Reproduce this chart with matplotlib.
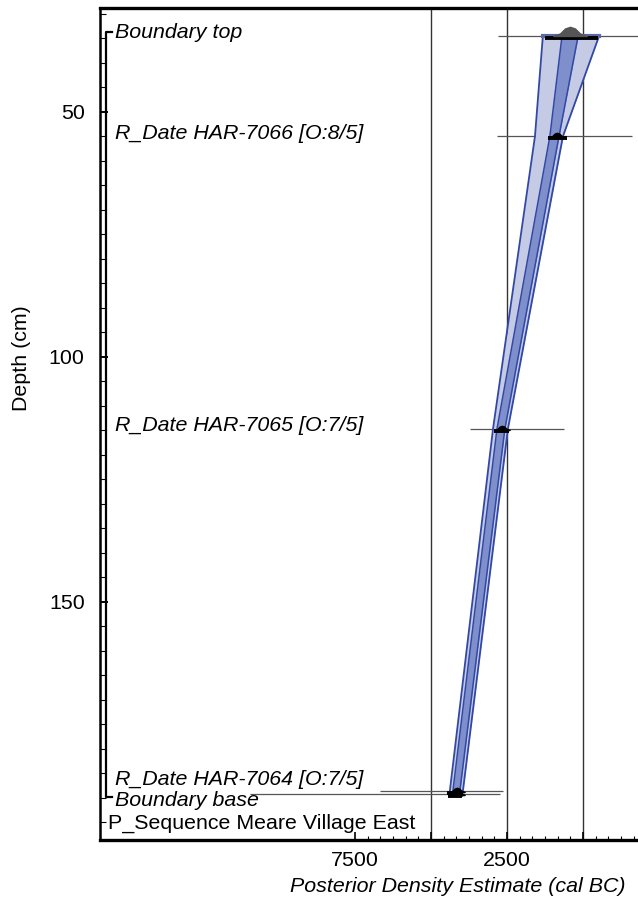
import matplotlib
matplotlib.use('Agg')
import matplotlib.pyplot as plt
from matplotlib.path import Path
from matplotlib.ticker import FixedLocator, FixedFormatter
import numpy as np

plt.rcParams['font.family'] = ['Liberation Sans', 'DejaVu Sans']

# ---------------------------------------------------------------
# data (cal BC / depth in cm)
# ---------------------------------------------------------------
names = ['Boundary top', 'R_Date HAR-7066 [O:8/5]', 'R_Date HAR-7065 [O:7/5]',
         'R_Date HAR-7064 [O:7/5]', 'Boundary base']
depths = [34.5, 54.9, 114.7, 188.6, 189.2]
label_depths = [33.7, 54.5, 114.1, 186.3, 190.6]
prior_old = [2800, 2830, 3720, 6680, 10950]
prior_young = [-2300, -1610, 620, 2630, 2730]
post_old = [1250, 1150, 2930, 4470, 4440]
post_young = [-490, 530, 2430, 3950, 3980]
post_mode = [430, 855, 2670, 4145, 4150]

env_depth = [34.5, 55.0, 114.7, 188.6, 189.6]
env95_old = [1320, 1580, 2960, 4380, 4400]
env95_young = [-530, 660, 2470, 3950, 3970]
env68_old = [690, 1090, 2830, 4280, 4300]
env68_young = [160, 790, 2570, 4050, 4070]

seq_name = 'P_Sequence Meare Village East'
seq_depth = 195.3

xticks = [7500, 5000, 2500, 0]
xticklabels = ['7500', '', '2500', '']
xgrid = [5000, 2500, 0]
yticks = [50, 100, 150]

# ---------------------------------------------------------------
LIGHT = '#c6cbe5'
DARK = '#7f8fcb'
EDGE = '#3148a6'
FS = 15.4

fig = plt.figure(figsize=(6.38, 9.01), dpi=100, facecolor='white')
ax = fig.add_axes([100 / 638, 61 / 901, 540 / 638, 832 / 901])
ax.set_xlim(15888, -1875)
ax.set_ylim(198.6, 28.8)

for g in xgrid:
    ax.axvline(g, color='#333333', lw=1.0, zorder=1)

# envelopes
ax.fill_betweenx(env_depth, env95_old, env95_young, color=LIGHT, lw=0, zorder=3)
ax.fill_betweenx(env_depth, env68_old, env68_young, color=DARK, lw=0, zorder=3)
for arr, w in [(env95_old, 1.3), (env95_young, 1.3), (env68_old, 1.1), (env68_young, 1.1)]:
    ax.plot(arr, env_depth, color=EDGE, lw=w, zorder=4)
ax.plot([env95_old[0], env95_young[0]], [env_depth[0], env_depth[0]],
        color='#5a6aa8', lw=3, zorder=4)

# hump marker for posterior distributions
hump = Path([(-1, 0), (-0.6, 0.15), (-0.3, 0.45), (0, 0.55), (0.3, 0.45),
             (0.6, 0.15), (1, 0), (-1, 0)],
            [Path.MOVETO] + [Path.LINETO] * 6 + [Path.CLOSEPOLY])

for i, d in enumerate(depths):
    ax.plot([prior_old[i], prior_young[i]], [d, d], color='#555555', lw=0.9,
            zorder=2, solid_capstyle='butt')
    ax.plot([post_old[i], post_young[i]], [d + 0.45, d + 0.45], color='black',
            lw=2.8, zorder=5, solid_capstyle='butt')
    if i == 0:
        ax.plot(post_mode[i], d, marker=hump, ms=24, color='#555555', zorder=6)
    else:
        ax.plot(post_mode[i], d + 0.3, marker=hump, ms=11, color='black', zorder=6)
    ax.text(0.028, label_depths[i], names[i], transform=ax.get_yaxis_transform(),
            fontsize=FS, style='italic', ha='left', va='center', zorder=7)

ax.text(0.014, seq_depth, seq_name, transform=ax.get_yaxis_transform(),
        fontsize=FS, ha='left', va='center', zorder=7)

# sequence bracket
tr = ax.get_yaxis_transform()
ax.plot([0.022, 0.011, 0.011, 0.022], [33.6, 33.6, 189.8, 189.8],
        color='black', lw=1.6, transform=tr, clip_on=False, zorder=7)

# axes styling
ax.spines['right'].set_visible(False)
ax.spines['top'].set_linewidth(2.4)
ax.spines['bottom'].set_linewidth(2.4)
ax.spines['left'].set_linewidth(1.8)

ax.xaxis.set_major_locator(FixedLocator(xticks))
ax.xaxis.set_major_formatter(FixedFormatter(xticklabels))
ax.xaxis.set_minor_locator(FixedLocator(np.arange(7500, -1900, -2500 / 6)))
ax.tick_params(axis='x', which='major', direction='in', length=6, width=1.2,
               labelsize=FS, pad=8)
ax.tick_params(axis='x', which='minor', direction='in', length=3, width=0.8)

ax.yaxis.set_major_locator(FixedLocator(yticks))
ax.yaxis.set_minor_locator(FixedLocator(np.arange(30, 200, 5)))
ax.tick_params(axis='y', which='major', direction='in', length=6, width=1.4,
               labelsize=FS, pad=11)
ax.tick_params(axis='y', which='minor', direction='in', length=4, width=0.8)

fig.text(22 / 638, 1 - 358 / 901, 'Depth (cm)', rotation=90, fontsize=FS,
         ha='center', va='center')
fig.text(458 / 638, 1 - 886 / 901, 'Posterior Density Estimate (cal BC)',
         fontsize=FS, style='italic', ha='center', va='center')

fig.savefig('out.png', dpi=100, facecolor='white')
